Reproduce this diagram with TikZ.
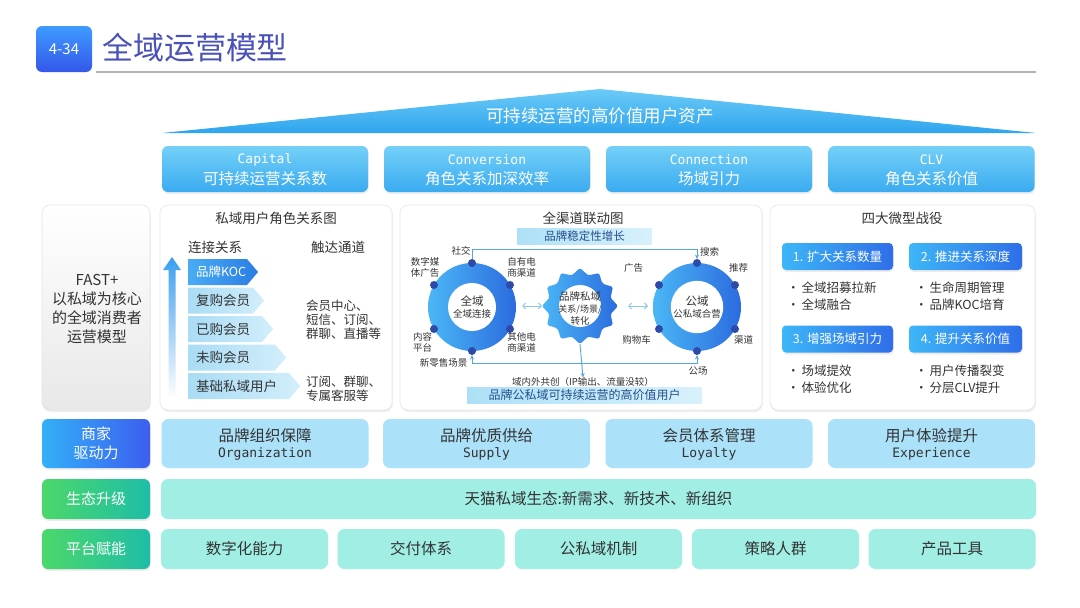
\documentclass[tikz,border=0pt]{standalone}
\usepackage{fontspec}
\setmainfont{Noto Sans CJK SC}
\newfontfamily\monof{DejaVu Sans Mono}
\usetikzlibrary{shapes.geometric,arrows.meta,shadows}
\newcommand\fs[2]{\fontsize{#1pt}{#2pt}\selectfont}
\definecolor{titlec}{HTML}{4A52B8}
\definecolor{badgeA}{HTML}{3E9BFF}
\definecolor{badgeB}{HTML}{3457EA}
\definecolor{triA}{HTML}{6CCBF7}
\definecolor{triB}{HTML}{2FA5EE}
\definecolor{tbA}{HTML}{74D0F8}
\definecolor{tbB}{HTML}{3AABF0}
\definecolor{txtc}{HTML}{333333}
\definecolor{panelc}{HTML}{E4EBF0}
\definecolor{chevA}{HTML}{A9DCF5}
\definecolor{chevB}{HTML}{D2EEFB}
\definecolor{kocA}{HTML}{49ACF3}
\definecolor{kocB}{HTML}{2A7CE5}
\definecolor{upA}{HTML}{3A9EF0}
\definecolor{ringA}{HTML}{4BB7F6}
\definecolor{ringB}{HTML}{2B6BDF}
\definecolor{dotc}{HTML}{2E4AA8}
\definecolor{connc}{HTML}{55AAD3}
\definecolor{dblc}{HTML}{8CCBE6}
\definecolor{banA}{HTML}{ADE0F7}
\definecolor{banB}{HTML}{D8F1FC}
\definecolor{bantxt}{HTML}{24508C}
\definecolor{btnA}{HTML}{3DB6F7}
\definecolor{btnB}{HTML}{2F6EE9}
\definecolor{drvc}{HTML}{ABE1F9}
\definecolor{lblA}{HTML}{33B0F8}
\definecolor{lblB}{HTML}{3C5EEF}
\definecolor{grnA}{HTML}{4BD86A}
\definecolor{grnB}{HTML}{1EBDA8}
\definecolor{tealc}{HTML}{A0EEE4}
\begin{document}
\begin{tikzpicture}[x=1pt,y=-1pt,
  every node/.style={inner sep=0pt,outer sep=0pt},
  softshadow/.style={drop shadow={shadow xshift=0.8pt,shadow yshift=-2pt,fill=black,opacity=0.07}},
  badge/.style={rounded corners=6pt,top color=badgeA,bottom color=badgeB,minimum width=56pt,minimum height=46pt,text=white,font={\fs{15}{18}}},
  topbox/.style={rounded corners=6pt,top color=tbA,bottom color=tbB,minimum width=206pt,minimum height=46pt,softshadow},
  wtxt/.style={text=white,align=center},
  dtxt/.style={text=txtc,align=center},
  panel/.style={rounded corners=8pt,fill=white,draw=panelc,line width=0.8pt,minimum height=205pt,softshadow},
  leftpanel/.style={rounded corners=8pt,top color=white,bottom color=black!9,draw=black!10,line width=0.6pt,minimum width=108pt,minimum height=205pt,softshadow},
  ringdot/.style={circle,fill=dotc,minimum size=8pt},
  ringin/.style={circle,fill=white,minimum size=48pt,align=center,text=txtc},
  small/.style={text=txtc,align=center,font={\fs{9.5}{11}}},
  conn/.style={draw=connc,line width=0.9pt},
  tip/.style={-{Stealth[length=4.5pt,width=4pt]}},
  banner/.style={left color=banA,right color=banB,minimum height=16pt,text=bantxt},
  btn/.style={rounded corners=4pt,left color=btnA,right color=btnB,minimum height=27pt,text=white,font={\fs{12.5}{15}},softshadow},
  bul/.style={anchor=west,text=txtc,font={\fs{12.5}{15}}},
  drvlbl/.style={rounded corners=6pt,left color=lblA,right color=lblB,minimum width=108pt,minimum height=49pt,text=white,align=center,font={\fs{15}{19}},softshadow},
  grnlbl/.style={rounded corners=6pt,left color=grnA,right color=grnB,minimum width=108pt,minimum height=40pt,text=white,font={\fs{15}{18}},softshadow},
  drvbox/.style={rounded corners=7pt,fill=drvc,minimum width=207pt,minimum height=49pt},
  tealbox/.style={rounded corners=7pt,fill=tealc,minimum height=40pt,text=txtc,font={\fs{15.5}{18}}}
]
\useasboundingbox (0,0) rectangle (1080,608);
\fill[white] (0,0) rectangle (1080,608);

% title
\node[badge] (badge) at (64,49) {4-34};
\node[anchor=west,text=titlec,font={\fs{31}{34}}] (title) at (102,48) {全域运营模型};
\draw[black!30,line width=1.5pt] (96,72) -- (1036,72);

% roof triangle
\shade[top color=triA,bottom color=triB,rounded corners=2pt] (162,133) -- (600,89) -- (1036,133) -- cycle;
\node[wtxt,font={\fs{17.5}{20}}] (roof) at (600,116) {可持续运营的高价值用户资产};

% top boxes
\foreach \x/\en/\zh [count=\i] in {265/Capital/可持续运营关系数,487/Conversion/角色关系加深效率,709/Connection/场域引力,931.5/CLV/角色关系价值}{
  \node[topbox] (tb\i) at (\x,169) {};
  \node[wtxt,font={\monof\fs{13}{15}}] (tbe\i) at (\x,160) {\en};
  \node[wtxt,font={\fs{15.5}{18}}] (tbz\i) at (\x,179) {\zh};
}

% left panel
\node[leftpanel] (fastbox) at (96,307.5) {};
\node[dtxt,font={\fs{15}{19}}] (fast) at (97,309) {FAST+\\以私域为核心\\的全域消费者\\运营模型};

% three middle panels
\node[panel,minimum width=232pt] (p1) at (276,307.5) {};
\node[panel,minimum width=362pt] (p2) at (581,307.5) {};
\node[panel,minimum width=265pt] (p3) at (902.5,307.5) {};

% ---- panel 1
\node[dtxt,font={\fs{13.5}{16}}] (p1t) at (276,218) {私域用户角色关系图};
\node[dtxt,font={\fs{13.5}{16}}] (h1) at (215,247) {连接关系};
\node[dtxt,font={\fs{13.5}{16}}] (h2) at (338,247) {触达通道};
\shade[top color=upA,bottom color=white] (172,257) -- (181,270) -- (175.5,270) -- (175.5,398) -- (168.5,398) -- (168.5,270) -- (163,270) -- cycle;
\shade[left color=kocA,right color=kocB] (188,259) -- (247,259) -- (258,272) -- (247,285) -- (188,285) -- cycle;
\node[anchor=west,text=white,font={\fs{12.5}{15}}] (c1) at (196,272) {品牌KOC};
\foreach \yy/\tp/\lab/\nm in {300.5/264/复购会员/c2,329/273/已购会员/c3,357.5/286/未购会员/c4,386/300/基础私域用户/c5}{
  \shade[left color=chevA,right color=chevB] (188,\yy-13) -- (\tp-11,\yy-13) -- (\tp,\yy) -- (\tp-11,\yy+13) -- (188,\yy+13) -- cycle;
  \node[anchor=west,text=txtc,font={\fs{13.5}{16}}] (\nm) at (196,\yy) {\lab};
}
\node[anchor=west,text=txtc,align=left,font={\fs{12.5}{14}}] (ch1) at (306,320) {会员中心、\\短信、订阅、\\群聊、直播等};
\node[anchor=west,text=txtc,align=left,font={\fs{12.5}{14}}] (ch2) at (306,388.5) {订阅、群聊、\\专属客服等};

% ---- panel 2
\node[dtxt,font={\fs{13.5}{16}}] (p2t) at (583,218) {全渠道联动图};
\node[banner,minimum width=135pt,font={\fs{11.5}{13}}] (bantop) at (584.5,236.5) {品牌稳定性增长};
\node[banner,minimum width=235pt,font={\fs{12}{14}}] (banbot) at (584.5,395) {品牌公私域可持续运营的高价值用户};

% left ring
\shade[left color=ringA,right color=ringB] (472,307) circle (44);
\node[ringin] (ringL) at (472,307) {{\fs{11.5}{13}全域}\\{\fs{9.5}{12}全域连接}};
\node[ringdot] (dL1) at (472,263) {};
\node[ringdot] (dL2) at (510,285) {};
\node[ringdot] (dL3) at (510,329) {};
\node[ringdot] (dL4) at (472,351) {};
\node[ringdot] (dL5) at (434,329) {};
\node[ringdot] (dL6) at (434,285) {};
% right ring
\shade[left color=ringA,right color=ringB] (697,307) circle (44);
\node[ringin] (ringR) at (697,307) {{\fs{11.5}{13}公域}\\{\fs{9.5}{12}公私域合营}};
\node[ringdot] (dR1) at (697,263) {};
\node[ringdot] (dR2) at (735,285) {};
\node[ringdot] (dR3) at (735,329) {};
\node[ringdot] (dR4) at (697,351) {};
\node[ringdot] (dR5) at (659,329) {};
\node[ringdot] (dR6) at (659,285) {};
% star
\node[star,star points=12,star point ratio=1.2,minimum size=76pt,left color=ringA,right color=ringB,rounded corners=1.5pt] (star) at (580,306) {};
\node[circle,fill=white,minimum size=42pt] (starin) at (580,306) {};
\node[dtxt] (startxt) at (580,308) {{\fs{10.5}{10}品牌私域}\\{\fs{9}{10}关系/场景/}\\{\fs{9.5}{10}转化}};

% ring labels
\node[small] (lb1) at (461,251) {社交};
\node[small] (lb2) at (425,267.5) {数字媒\\体广告};
\node[small] (lb3) at (521.5,267.5) {自有电\\商渠道};
\node[small] (lb4) at (521.5,342) {其他电\\商渠道};
\node[small] (lb5) at (422.5,342) {内容\\平台};
\node[small] (lb6) at (443.5,363) {新零售场景};
\node[small] (lb7) at (709.5,252) {搜索};
\node[small] (lb8) at (738.5,268) {推荐};
\node[small] (lb9) at (633.5,268) {广告};
\node[small] (lb10) at (636.5,340) {购物车};
\node[small] (lb11) at (743.5,340) {渠道};
\node[small] (lb12) at (698,371) {公场};
\node[small] (cotext) at (583,382) {域内外共创（IP输出、流量没较）};

% connectors
\draw[conn,tip] (dL1.north) -- ++(0,-10) -| (dR1.north);
\draw[conn,{Stealth[length=4.5pt,width=4pt]}-{Stealth[length=4.5pt,width=4pt]}] (dL4.south) -- ++(0,8) -| (dR4.south);
\draw[conn,tip] (star.south) -- (cotext.north);
\coordinate (da1) at (522,306);
\coordinate (da2) at (542,306);
\coordinate (da3) at (628,306);
\coordinate (da4) at (648,306);
\draw[dblc,line width=1pt,{Straight Barb[length=3pt]}-{Straight Barb[length=3pt]}] (da1) -- (da2);
\draw[dblc,line width=1pt,{Straight Barb[length=3pt]}-{Straight Barb[length=3pt]}] (da3) -- (da4);

% ---- panel 3
\node[dtxt,font={\fs{13.5}{16}}] (p3t) at (902,218) {四大微型战役};
\node[btn,minimum width=111pt] (b1) at (837.5,256.5) {1. 扩大关系数量};
\node[btn,minimum width=113pt] (b2) at (965.5,256.5) {2. 推进关系深度};
\node[btn,minimum width=111pt] (b3) at (837.5,339) {3. 增强场域引力};
\node[btn,minimum width=113pt] (b4) at (965.5,339) {4. 提升关系价值};
\node[bul] (u1) at (787,288) {•\,全域招募拉新};
\node[bul] (u2) at (787,305) {•\,全域融合};
\node[bul] (u3) at (915,288) {•\,生命周期管理};
\node[bul] (u4) at (915,305) {•\,品牌KOC培育};
\node[bul] (u5) at (787,371) {•\,场域提效};
\node[bul] (u6) at (787,388) {•\,体验优化};
\node[bul] (u7) at (915,371) {•\,用户传播裂变};
\node[bul] (u8) at (915,388) {•\,分层CLV提升};

% ---- driver row
\node[drvlbl] (drv) at (96,443.5) {商家\\驱动力};
\foreach \x/\zh/\en [count=\i] in {265/品牌组织保障/Organization,486.5/品牌优质供给/Supply,709/会员体系管理/Loyalty,931.5/用户体验提升/Experience}{
  \node[drvbox] (d\i) at (\x,443.5) {};
  \node[dtxt,font={\fs{15.5}{18}}] (dz\i) at (\x,436) {\zh};
  \node[dtxt,font={\monof\fs{13}{15}}] (de\i) at (\x,454) {\en};
}

% ---- eco row
\node[grnlbl] (eco) at (96,499) {生态升级};
\node[tealbox,minimum width=875pt] (ecobox) at (598.5,499) {天猫私域生态:新需求、新技术、新组织};

% ---- platform row
\node[grnlbl] (plat) at (96,549) {平台赋能};
\foreach \x/\lab [count=\i] in {244.5/数字化能力,421/交付体系,598.5/公私域机制,775.5/策略人群,952/产品工具}{
  \node[tealbox,minimum width=167pt] (pf\i) at (\x,549) {\lab};
}
\end{tikzpicture}
\end{document}
